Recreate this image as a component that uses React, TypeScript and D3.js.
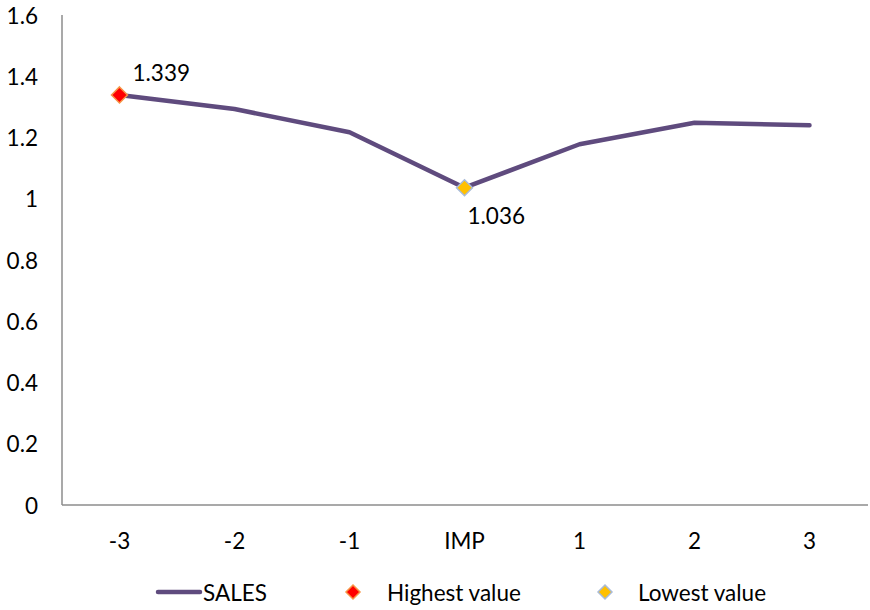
import React from "react";
import * as d3 from "d3";

const categories = ["-3", "-2", "-1", "IMP", "1", "2", "3"];
const sales = [1.339, 1.293, 1.217, 1.036, 1.178, 1.248, 1.240];
const yTicks = [0, 0.2, 0.4, 0.6, 0.8, 1, 1.2, 1.4, 1.6];
const highestIndex = 0;
const lowestIndex = 3;
const legendLabels = ["SALES", "Highest value", "Lowest value"];

const W = 870;
const H = 610;
const left = 62;
const right = 867;
const top = 15;
const bottom = 505;
const FONT = "Lato, 'Open Sans', sans-serif";
const FS = 22.5;
const LINE_COLOR = "#5F4B7E";

export default function App() {
  const x = d3.scaleBand<string>().domain(categories).range([left, right]);
  const y = d3.scaleLinear().domain([0, 1.6]).range([bottom, top]);
  const cx = (c: string) => (x(c) as number) + x.bandwidth() / 2;
  const line = d3
    .line<number>()
    .x((_, i) => cx(categories[i]))
    .y((d) => y(d));

  const diamond = (px: number, py: number, r: number) =>
    `M${px},${py - r}L${px + r},${py}L${px},${py + r}L${px - r},${py}Z`;

  const hx = cx(categories[highestIndex]);
  const hy = y(sales[highestIndex]);
  const lx = cx(categories[lowestIndex]);
  const ly = y(sales[lowestIndex]);

  return (
    <svg
      width={W}
      height={H}
      style={{ position: "absolute", left: 0, top: 0, background: "#fff" }}
      fontFamily={FONT}
    >
      {/* axes */}
      <line x1={left} x2={left} y1={top} y2={bottom} stroke="#8C8C8C" strokeWidth={1.5} />
      <line x1={left} x2={right + 1} y1={bottom} y2={bottom} stroke="#8C8C8C" strokeWidth={1.5} />
      {yTicks.map((t) => (
        <text key={t} x={38} y={y(t)} textAnchor="end" dominantBaseline="central" fontSize={FS} fill="#000">
          {String(t)}
        </text>
      ))}
      {categories.map((c) => (
        <text key={c} x={cx(c)} y={540} textAnchor="middle" dominantBaseline="central" fontSize={FS} fill="#000">
          {c}
        </text>
      ))}
      {/* series line */}
      <path d={line(sales) as string} fill="none" stroke={LINE_COLOR} strokeWidth={4.5} strokeLinecap="round" strokeLinejoin="round" />
      {/* markers */}
      <path d={diamond(hx, hy, 8)} fill="#FF0000" stroke="#F79646" strokeWidth={1.5} />
      <path d={diamond(lx, ly, 8)} fill="#FFC000" stroke="#A9BBD9" strokeWidth={1.5} />
      <text x={hx + 13} y={hy - 22} dominantBaseline="central" fontSize={FS} fill="#000">
        {sales[highestIndex].toFixed(3)}
      </text>
      <text x={lx + 3} y={ly + 28} dominantBaseline="central" fontSize={FS} fill="#000">
        {sales[lowestIndex].toFixed(3)}
      </text>
      {/* legend */}
      <line x1={158} x2={200} y1={592} y2={592} stroke={LINE_COLOR} strokeWidth={4.5} strokeLinecap="round" />
      <text x={203} y={592} dominantBaseline="central" fontSize={FS} fill="#000">{legendLabels[0]}</text>
      <path d={diamond(353, 592, 7)} fill="#FF0000" stroke="#F79646" strokeWidth={1.5} />
      <text x={387} y={592} dominantBaseline="central" fontSize={FS} fill="#000">{legendLabels[1]}</text>
      <path d={diamond(605, 592, 7)} fill="#FFC000" stroke="#A9BBD9" strokeWidth={1.5} />
      <text x={638} y={592} dominantBaseline="central" fontSize={FS} fill="#000">{legendLabels[2]}</text>
    </svg>
  );
}
